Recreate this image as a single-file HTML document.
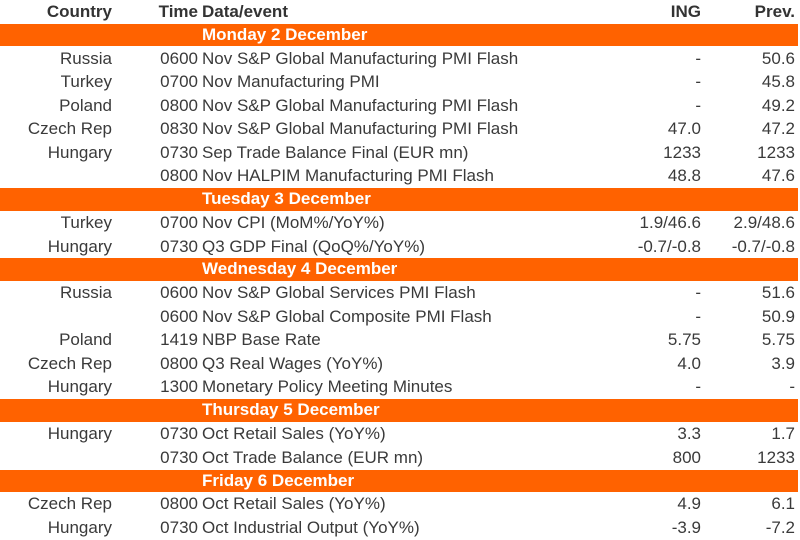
<!DOCTYPE html>
<html><head><meta charset="utf-8"><style>
body{margin:0;width:800px;height:540px;background:#fff;overflow:hidden;font-family:"Liberation Sans",sans-serif;font-size:17px;color:#3a3a3a}
.r{position:absolute;left:0;width:798px;height:23.45px;line-height:24px}
.r span{position:absolute;white-space:nowrap}
.c{right:686px;text-align:right}
.t{right:600px}
.d{left:202px}
.i{right:97px}
.p{right:3px}
.b{background:#ff6200;color:#fff;font-weight:bold;height:22.5px;line-height:22.5px}
.h{font-weight:bold;color:#333}
</style></head><body>
<div id="w"></div>
<script>
var rows=[
["h","Country","Time","Data/event","ING","Prev."],
["b","Monday 2 December"],
["","Russia","0600","Nov S&P Global Manufacturing PMI Flash","-","50.6"],
["","Turkey","0700","Nov Manufacturing PMI","-","45.8"],
["","Poland","0800","Nov S&P Global Manufacturing PMI Flash","-","49.2"],
["","Czech Rep","0830","Nov S&P Global Manufacturing PMI Flash","47.0","47.2"],
["","Hungary","0730","Sep Trade Balance Final (EUR mn)","1233","1233"],
["","","0800","Nov HALPIM Manufacturing PMI Flash","48.8","47.6"],
["b","Tuesday 3 December"],
["","Turkey","0700","Nov CPI (MoM%/YoY%)","1.9/46.6","2.9/48.6"],
["","Hungary","0730","Q3 GDP Final (QoQ%/YoY%)","-0.7/-0.8","-0.7/-0.8"],
["b","Wednesday 4 December"],
["","Russia","0600","Nov S&P Global Services PMI Flash","-","51.6"],
["","","0600","Nov S&P Global Composite PMI Flash","-","50.9"],
["","Poland","1419","NBP Base Rate","5.75","5.75"],
["","Czech Rep","0800","Q3 Real Wages (YoY%)","4.0","3.9"],
["","Hungary","1300","Monetary Policy Meeting Minutes","-","-"],
["b","Thursday 5 December"],
["","Hungary","0730","Oct Retail Sales (YoY%)","3.3","1.7"],
["","","0730","Oct Trade Balance (EUR mn)","800","1233"],
["b","Friday 6 December"],
["","Czech Rep","0800","Oct Retail Sales (YoY%)","4.9","6.1"],
["","Hungary","0730","Oct Industrial Output (YoY%)","-3.9","-7.2"]];
var h="";
function e(s){return s.replace(/&/g,"&amp;")}
rows.forEach(function(r,k){
var top=(k*23.45).toFixed(2);
if(r[0]=="b"){h+='<div class="r b" style="top:'+(k*23.45+0.5).toFixed(2)+'px"><span class="d">'+r[1]+'</span></div>';}
else{h+='<div class="r '+r[0]+'" style="top:'+top+'px"><span class="c">'+r[1]+'</span><span class="t">'+r[2]+'</span><span class="d">'+e(r[3])+'</span><span class="i">'+r[4]+'</span><span class="p">'+r[5]+'</span></div>';}
});
document.getElementById("w").innerHTML=h;
</script>
</body></html>
